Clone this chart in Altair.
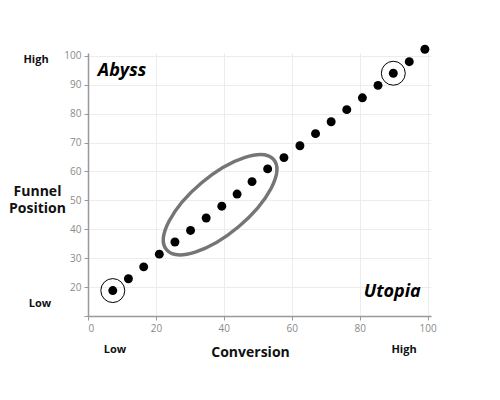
import altair as alt
import pandas as pd

conv = [7.3, 11.9, 16.4, 21.0, 25.6, 30.2, 34.8, 39.4, 43.9, 48.3, 52.9,
        57.7, 62.4, 67.0, 71.6, 76.2, 80.8, 85.4, 89.9, 94.6, 99.2]
funnel = [18.8, 22.9, 27.0, 31.4, 35.6, 39.6, 43.9, 48.0, 52.2, 56.5, 60.9,
          64.8, 68.9, 73.1, 77.2, 81.4, 85.5, 89.8, 94.0, 98.0, 102.3]
highlight_idx = [0, 18]
ellipse_center = [38.9, 48.5]
regions = ["Abyss", "Utopia"]
region_x = [2.9, 98.0]
region_y = [94.6, 18.4]

pts = pd.DataFrame({"x": conv, "y": funnel})
hl = pts.iloc[highlight_idx]
ell = pd.DataFrame({"x": [ellipse_center[0]], "y": [ellipse_center[1]]})
reg = pd.DataFrame({"label": regions, "x": region_x, "y": region_y})

FONT = "Open Sans"
xs = alt.Scale(domain=[0, 101], nice=False, zero=False)
ys = alt.Scale(domain=[10, 101], nice=False, zero=False)

xaxis = alt.Axis(values=[0, 20, 40, 60, 80, 100], title="Conversion",
                 titleFont=FONT, titleFontSize=14, titleFontWeight="bold",
                 titleColor="#111", titleX=162, titleY=36, titleBaseline="middle",
                 titleAlign="center", labelOverlap=False)
yaxis = alt.Axis(values=[10, 20, 30, 40, 50, 60, 70, 80, 90, 100],
                 labelExpr="datum.value == 10 ? '' : datum.label",
                 labelOverlap=False,
                 title=["Funnel", "Position"], titleAngle=0, titleAlign="center",
                 titleBaseline="top", titleX=-51, titleY=131, titleFont=FONT,
                 titleFontSize=14, titleFontWeight="bold", titleColor="#111",
                 titleLineHeight=17)

X = alt.X("x:Q", scale=xs, axis=xaxis)
Y = alt.Y("y:Q", scale=ys, axis=yaxis)

ellipse_path = ("M 1 0 C 1 0.2264 0.5523 0.41 0 0.41 C -0.5523 0.41 -1 0.2264 -1 0 "
                "C -1 -0.2264 -0.5523 -0.41 0 -0.41 C 0.5523 -0.41 1 -0.2264 1 0 Z")
ellipse = alt.Chart(ell).mark_point(shape=ellipse_path, size=19600, filled=False,
                                    stroke="#757575", strokeWidth=3.5, opacity=1,
                                    angle=320).encode(x=X, y=Y)

dots = alt.Chart(pts).mark_circle(size=80, color="black", opacity=1).encode(x=X, y=Y)

rings = alt.Chart(hl).mark_point(shape="circle", size=573, filled=False,
                                 stroke="black", strokeWidth=1, opacity=1).encode(x=X, y=Y)

abyss = alt.Chart(reg.iloc[[0]]).mark_text(font=FONT, fontSize=18, fontWeight="bold",
                                           fontStyle="italic", color="black",
                                           baseline="middle", align="left").encode(
    x=X, y=Y, text="label:N")
utopia = alt.Chart(reg.iloc[[1]]).mark_text(font=FONT, fontSize=18, fontWeight="bold",
                                            fontStyle="italic", color="black",
                                            baseline="middle", align="right").encode(
    x=X, y=Y, text="label:N")

end_text = ["High", "Low", "Low", "High"]
end_px = [-52, -48, 27, 316]
end_py = [7, 251, 297, 297]
end_layers = []
for t, px, py in zip(end_text, end_px, end_py):
    end_layers.append(
        alt.Chart(pd.DataFrame({"t": [t]})).mark_text(
            font=FONT, fontSize=11, fontWeight="bold", color="#111",
            baseline="middle", align="center").encode(
            x=alt.value(px), y=alt.value(py), text="t:N"))

chart = alt.layer(ellipse, dots, rings, abyss, utopia, *end_layers).properties(
    width=343, height=263,
    autosize=alt.AutoSizeParams(type="none"),
    padding={"left": 80, "top": 45, "right": 60, "bottom": 70},
).configure_view(stroke=None).configure_axis(
    gridColor="#ececec", gridWidth=1, domainColor="#999999", domainWidth=1.5,
    tickColor="#999999", tickSize=4, labelColor="#8a8a8a", labelFont=FONT,
    labelFontSize=10, labelPadding=3,
)

chart.save("out.html", embed_options={"renderer": "svg", "actions": False})
